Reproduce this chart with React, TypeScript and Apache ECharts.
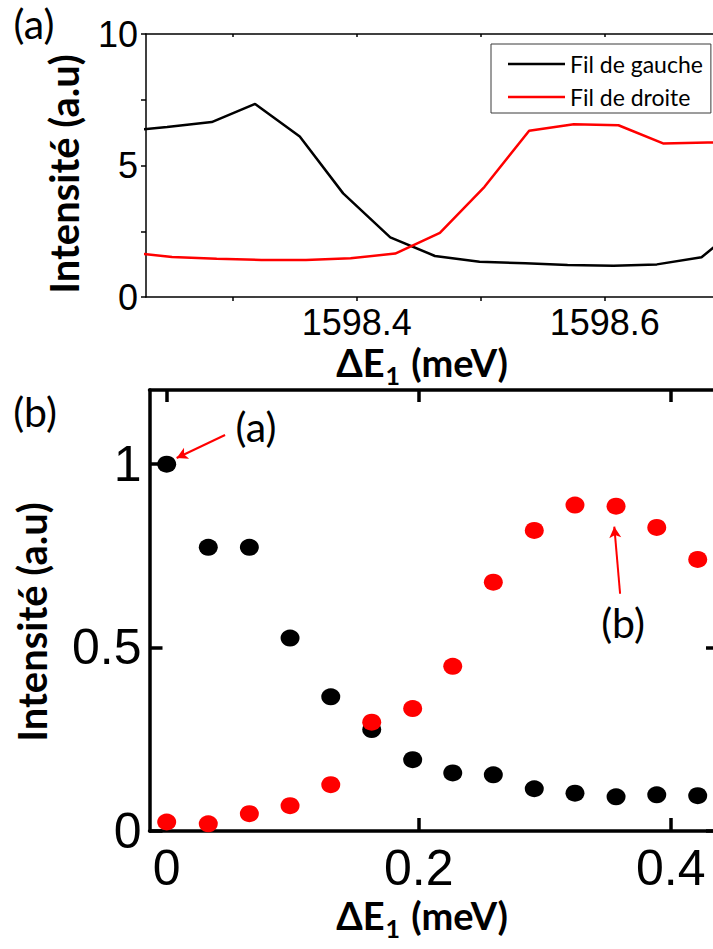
import React, { useEffect, useRef } from 'react';
import * as echarts from 'echarts';

// ---- Panel (a): spectra ----
const gaucheX = [1598.211, 1598.247, 1598.283, 1598.318, 1598.354, 1598.389, 1598.427, 1598.463, 1598.499, 1598.536, 1598.570, 1598.607, 1598.642, 1598.678, 1598.714];
const gaucheY = [6.30, 6.46, 6.65, 7.34, 6.10, 3.94, 2.27, 1.56, 1.34, 1.28, 1.22, 1.19, 1.24, 1.51, 2.9];
const droiteX = [1598.215, 1598.251, 1598.287, 1598.323, 1598.359, 1598.395, 1598.431, 1598.467, 1598.503, 1598.539, 1598.575, 1598.611, 1598.647, 1598.683, 1598.719];
const droiteY = [1.71, 1.52, 1.45, 1.41, 1.41, 1.47, 1.65, 2.44, 4.19, 6.32, 6.57, 6.53, 5.84, 5.87, 5.88];
const topXTicks = [1598.3, 1598.4, 1598.5, 1598.6, 1598.7];
const topXLabels = [1598.4, 1598.6];
const topYTicks = [0, 2.5, 5, 7.5, 10];
const topYLabels = [0, 5, 10];

// ---- Panel (b): intensities vs detuning ----
const botX = [0, 0.033, 0.0656, 0.0979, 0.1302, 0.1627, 0.1952, 0.227, 0.2592, 0.2917, 0.324, 0.3566, 0.3889, 0.4214];
const botBlack = [0.998, 0.772, 0.772, 0.525, 0.365, 0.276, 0.194, 0.158, 0.153, 0.115, 0.103, 0.093, 0.0985, 0.096];
const botRed = [0.0245, 0.0196, 0.047, 0.069, 0.126, 0.296, 0.333, 0.448, 0.677, 0.818, 0.887, 0.884, 0.826, 0.739];
const botXTicks = [0, 0.2, 0.4];
const botYTicks = [0, 0.5, 1];
const botYRightTicks = [0, 0.5];

// annotation arrows (data coordinates of panel b)
const arrowA = [[0.0463, 1.0776], [0.0079, 1.015]];
const arrowB = [[0.3598, 0.6455], [0.3552, 0.828]];

const seriesNames = ['Fil de gauche', 'Fil de droite'];

const tickFont = 'Liberation Sans, Arial, sans-serif';
const textFont = 'Lato, "Open Sans", sans-serif';

function pairs(xs: number[], ys: number[]) {
  return xs.map((x, i) => [x, ys[i]]);
}

export default function App() {
  const ref = useRef<HTMLDivElement>(null);
  useEffect(() => {
    const chart = echarts.init(ref.current!, null, { renderer: 'svg' });
    const thin = { color: '#000', width: 1.5 };
    const thick = { color: '#000', width: 3.5 };
    const xTitle = (y: number) => ({
      type: 'text',
      x: 422,
      y,
      style: {
        text: '{m|ΔE}{s|1}{m| (meV)}',
        align: 'center',
        verticalAlign: 'middle',
        rich: {
          m: { fontFamily: textFont, fontWeight: 'bold', fontSize: 38, lineHeight: 44, fill: '#000' },
          s: { fontFamily: textFont, fontWeight: 'bold', fontSize: 25, lineHeight: 28, padding: [26, 2, 0, 1], fill: '#000' },
        },
      },
    });
    const yTitle = (x: number, y: number) => ({
      type: 'text',
      x,
      y,
      rotation: Math.PI / 2,
      style: {
        text: 'Intensité (a.u)',
        fontFamily: textFont,
        fontWeight: 'bold',
        fontSize: 40,
        fill: '#000',
        align: 'center',
        verticalAlign: 'middle',
      },
    });
    const plain = (text: string, x: number, y: number, size: number) => ({
      type: 'text',
      x,
      y,
      style: { text, fontFamily: textFont, fontSize: size, fill: '#000', align: 'center', verticalAlign: 'middle' },
    });

    chart.setOption({
      animation: false,
      backgroundColor: '#fff',
      grid: [
        { left: 146, top: 34, width: 620, height: 263, containLabel: false, outerBoundsMode: 'none' },
        { left: 149.5, top: 390, width: 568.5, height: 441, containLabel: false, outerBoundsMode: 'none' },
      ],
      legend: {
        data: seriesNames,
        orient: 'vertical',
        left: 491,
        top: 44,
        icon: 'rect',
        itemWidth: 57,
        itemHeight: 2.5,
        itemGap: 7,
        padding: [7, 8, 3, 17],
        backgroundColor: '#fff',
        borderColor: '#3a3a3a',
        borderWidth: 1,
        selectedMode: false,
        textStyle: { fontFamily: textFont, fontSize: 23, color: '#000', lineHeight: 26 },
      },
      xAxis: [
        {
          gridIndex: 0, type: 'value', position: 'bottom', min: 1598.23, max: 1598.73,
          axisLine: { show: true, onZero: false, lineStyle: thin },
          axisTick: { show: true, inside: false, length: 4, lineStyle: thin, customValues: topXTicks },
          axisLabel: { show: true, customValues: topXLabels, formatter: (v: number) => v.toFixed(1), margin: 7, fontSize: 36, fontFamily: tickFont, color: '#000' },
          splitLine: { show: false },
        },
        {
          gridIndex: 0, type: 'value', position: 'top', min: 1598.23, max: 1598.73,
          axisLine: { show: true, onZero: false, lineStyle: thin },
          axisTick: { show: true, inside: true, length: 3, lineStyle: thin, customValues: topXTicks },
          axisLabel: { show: false },
          splitLine: { show: false },
        },
        {
          gridIndex: 1, type: 'value', position: 'bottom', min: -0.01365, max: 0.4375,
          axisLine: { show: true, onZero: false, lineStyle: thick },
          axisTick: { show: true, inside: true, length: 13, lineStyle: thick, customValues: botXTicks },
          axisLabel: { show: true, customValues: botXTicks, formatter: (v: number) => (v === 0 ? '0' : String(v)), margin: 12, fontSize: 50, fontFamily: tickFont, color: '#000' },
          splitLine: { show: false },
        },
        {
          gridIndex: 1, type: 'value', position: 'top', min: -0.01365, max: 0.4375,
          axisLine: { show: true, onZero: false, lineStyle: thick },
          axisTick: { show: true, inside: true, length: 12, lineStyle: thick, customValues: botXTicks },
          axisLabel: { show: false },
          splitLine: { show: false },
        },
      ],
      yAxis: [
        {
          gridIndex: 0, type: 'value', position: 'left', min: 0, max: 10, interval: 2.5,
          axisLine: { show: true, onZero: false, lineStyle: thin },
          axisTick: { show: true, inside: false, length: 5, lineStyle: thin, customValues: topYTicks },
          axisLabel: { show: true, customValues: topYLabels, margin: 8, fontSize: 36, fontFamily: tickFont, color: '#000' },
          splitLine: { show: false },
        },
        {
          gridIndex: 1, type: 'value', position: 'left', min: 0, max: 1.2,
          axisLine: { show: true, onZero: false, lineStyle: thick },
          axisTick: { show: true, inside: true, length: 13, lineStyle: thick, customValues: botYTicks },
          axisLabel: { show: true, customValues: botYTicks, margin: 8, fontSize: 50, fontFamily: tickFont, color: '#000' },
          splitLine: { show: false },
        },
        {
          gridIndex: 1, type: 'value', position: 'right', min: 0, max: 1.2,
          axisLine: { show: true, onZero: false, lineStyle: thick },
          axisTick: { show: true, inside: true, length: 12, lineStyle: thick, customValues: botYRightTicks },
          axisLabel: { show: false },
          splitLine: { show: false },
        },
      ],
      series: [
        {
          name: seriesNames[0], type: 'line', xAxisIndex: 0, yAxisIndex: 0,
          data: pairs(gaucheX, gaucheY), symbol: 'none', color: '#000',
          lineStyle: { color: '#000', width: 2.5 }, itemStyle: { color: '#000' },
        },
        {
          name: seriesNames[1], type: 'line', xAxisIndex: 0, yAxisIndex: 0,
          data: pairs(droiteX, droiteY), symbol: 'none', color: '#ff0000',
          lineStyle: { color: '#ff0000', width: 2.5 }, itemStyle: { color: '#ff0000' },
        },
        {
          name: 'gauche (b)', type: 'scatter', xAxisIndex: 2, yAxisIndex: 1, clip: false,
          data: pairs(botX, botBlack), symbol: 'circle', symbolSize: [19, 17],
          itemStyle: { color: '#000', opacity: 1 },
        },
        {
          name: 'droite (b)', type: 'scatter', xAxisIndex: 2, yAxisIndex: 1, clip: false,
          data: pairs(botX, botRed), symbol: 'circle', symbolSize: [19, 17],
          itemStyle: { color: '#ff0000', opacity: 1 },
          markLine: {
            silent: true,
            symbol: ['none', 'arrow'],
            symbolSize: [9, 11],
            label: { show: false },
            lineStyle: { color: '#ff0000', width: 2, type: 'solid' },
            data: [
              [{ coord: arrowA[0] }, { coord: arrowA[1] }],
              [{ coord: arrowB[0] }, { coord: arrowB[1] }],
            ],
          },
        },
      ],
      graphic: [
        plain('(a)', 34, 23, 41),
        plain('(b)', 35, 411, 41),
        plain('(a)', 256, 426, 41),
        plain('(b)', 623, 622, 41),
        yTitle(64, 174),
        yTitle(32, 622),
        xTitle(362),
        xTitle(915),
      ],
    });
    return () => chart.dispose();
  }, []);
  return (
    <div
      ref={ref}
      style={{ position: 'absolute', left: 0, top: 0, width: 713, height: 949, overflow: 'hidden', background: '#fff' }}
    />
  );
}
